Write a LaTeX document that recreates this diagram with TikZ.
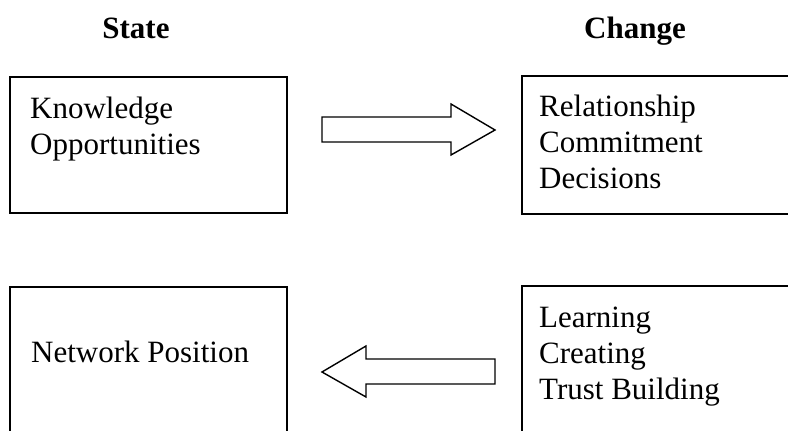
\documentclass[tikz,border=0pt]{standalone}
\usepackage{fontspec}
\setmainfont{Liberation Serif}
\begin{document}
\begin{tikzpicture}[x=1pt,y=-1pt,
  box/.style={draw=black, line width=1.6pt, rectangle, inner sep=0pt, anchor=north west},
  txt/.style={inner sep=0pt, anchor=base west, font=\fontsize{31}{36}\selectfont},
  ttl/.style={inner sep=0pt, anchor=base, font=\fontsize{31}{36}\selectfont\bfseries},
  blockarrow/.style={draw=black, line width=1.4pt, fill=white, line join=miter}]
\useasboundingbox (0,0) rectangle (788,431);
\clip (0,0) rectangle (788,431);
\fill[white] (0,0) rectangle (788,431);

% titles
\node[ttl] (state) at (136,38) {State};
\node[ttl] (change) at (635,38) {Change};

% boxes
\node[box, minimum width=277pt, minimum height=136pt] (b1) at (9,76) {};
\node[box, minimum width=290pt, minimum height=138pt] (b2) at (521,75) {};
\node[box, minimum width=277pt, minimum height=160pt] (b3) at (9,286) {};
\node[box, minimum width=290pt, minimum height=160pt] (b4) at (521,285) {};

% texts
\node[txt] (k) at (30,118) {Knowledge};
\node[txt] (o) at (30,154) {Opportunities};
\node[txt] (r) at (539,116) {Relationship};
\node[txt] (c) at (539,152) {Commitment};
\node[txt] (d) at (539,188) {Decisions};
\node[txt] (n) at (31,362) {Network Position};
\node[txt] (l) at (539,327) {Learning};
\node[txt] (cr) at (539,363) {Creating};
\node[txt] (tb) at (539,399) {Trust Building};

% block arrows
\draw[blockarrow] (322,117) -- (451,117) -- (451,104) -- (495,130) -- (451,155) -- (451,142) -- (322,142) -- cycle;
\draw[blockarrow] (495,359) -- (366,359) -- (366,346) -- (322,372) -- (366,397) -- (366,384) -- (495,384) -- cycle;
\end{tikzpicture}
\end{document}
